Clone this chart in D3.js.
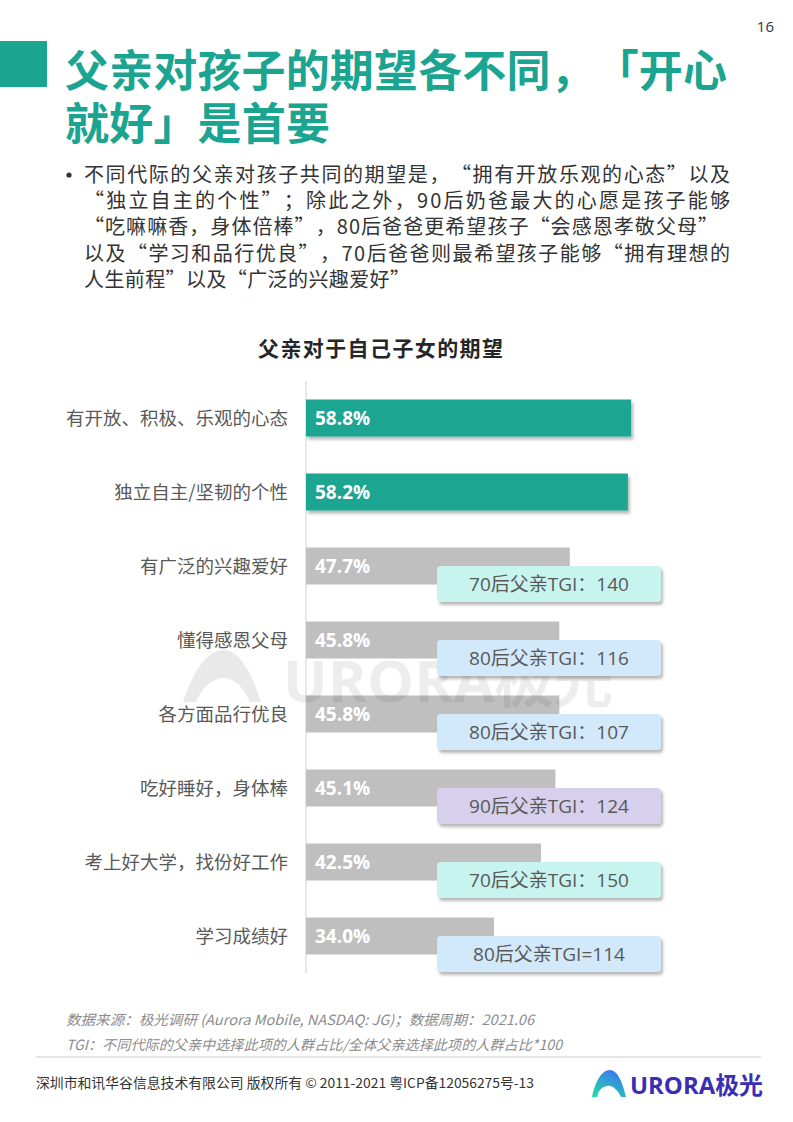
<!DOCTYPE html>
<html>
<head>
<meta charset="utf-8">
<script src="https://cdn.jsdelivr.net/npm/d3@7"></script>
<style>
  html, body { margin: 0; padding: 0; background: #fff; }
  svg { display: block; }
  text { font-family: "Noto Sans CJK SC", sans-serif; text-spacing-trim: space-all; }
  .num { font-family: "Open Sans", "Noto Sans CJK SC", sans-serif; }
</style>
</head>
<body>
<svg id="svg" width="793" height="1122"></svg>
<script>
const TEAL = '#1ba590'
const GRAY = '#bfbfbf'

const titleLines = ['父亲对孩子的期望各不同，「开心', '就好」是首要']
const titleEnds = [727, 330]
const bodyLines = [
  '不同代际的父亲对孩子共同的期望是，“拥有开放乐观的心态”以及',
  '“独立自主的个性”；除此之外，90后奶爸最大的心愿是孩子能够',
  '“吃嘛嘛香，身体倍棒”，80后爸爸更希望孩子“会感恩孝敬父母”',
  '以及“学习和品行优良”，70后爸爸则最希望孩子能够“拥有理想的',
  '人生前程”以及“广泛的兴趣爱好”'
]
const bodyEnds = [730, 730, 718, 730, 410]

const chartTitle = '父亲对于自己子女的期望'
const categories = [
  '有开放、积极、乐观的心态',
  '独立自主/坚韧的个性',
  '有广泛的兴趣爱好',
  '懂得感恩父母',
  '各方面品行优良',
  '吃好睡好，身体棒',
  '考上好大学，找份好工作',
  '学习成绩好'
]
const values = [58.8, 58.2, 47.7, 45.8, 45.8, 45.1, 42.5, 34.0]
const highlighted = ['有开放、积极、乐观的心态', '独立自主/坚韧的个性']
const tgiText = [null, null, '70后父亲TGI：140', '80后父亲TGI：116', '80后父亲TGI：107',
  '90后父亲TGI：124', '70后父亲TGI：150', '80后父亲TGI=114']
const genColors = { '70后': '#c8f4ef', '80后': '#d1e9fb', '90后': '#d6d0ec' }

const notes = [
  '数据来源：极光调研 (Aurora Mobile, NASDAQ: JG)；数据周期：2021.06',
  'TGI：不同代际的父亲中选择此项的人群占比/全体父亲选择此项的人群占比*100'
]
const noteEnds = [534, 562]
const footer = '深圳市和讯华谷信息技术有限公司 版权所有 © 2011-2021 粤ICP备12056275号-13'

const svg = d3.select('svg')
const defs = svg.append('defs')

const sh = defs.append('filter').attr('id', 'shadow')
  .attr('x', '-10%').attr('y', '-20%').attr('width', '130%').attr('height', '160%')
sh.append('feDropShadow').attr('dx', 2).attr('dy', 3).attr('stdDeviation', 1.6)
  .attr('flood-color', '#000').attr('flood-opacity', 0.28)

const lg = defs.append('linearGradient').attr('id', 'logoGrad')
  .attr('x1', '0').attr('y1', '1').attr('x2', '0.6').attr('y2', '0')
lg.append('stop').attr('offset', '0%').attr('stop-color', '#22e2a0')
lg.append('stop').attr('offset', '100%').attr('stop-color', '#3b78f0')

// header
svg.append('text').attr('x', 774).attr('y', 32).attr('text-anchor', 'end')
  .attr('class', 'num').attr('font-size', 15).attr('fill', '#333').text('16')

svg.append('rect').attr('x', 0).attr('y', 41).attr('width', 47).attr('height', 46).attr('fill', TEAL)

svg.selectAll('.title').data(titleLines).enter().append('text')
  .attr('class', 'title')
  .attr('x', 65)
  .attr('y', (d, i) => 87 + i * 53)
  .attr('font-size', 44)
  .attr('font-weight', 'bold')
  .attr('fill', TEAL)
  .attr('textLength', (d, i) => titleEnds[i] - 65)
  .attr('lengthAdjust', 'spacing')
  .text(d => d)

svg.append('circle').attr('cx', 69).attr('cy', 175).attr('r', 2.6).attr('fill', '#333')
svg.selectAll('.body').data(bodyLines).enter().append('text')
  .attr('class', 'body')
  .attr('x', 84)
  .attr('y', (d, i) => 182 + i * 26.2)
  .attr('font-size', 20)
  .attr('fill', '#333')
  .attr('textLength', (d, i) => bodyEnds[i] - 84)
  .attr('lengthAdjust', 'spacing')
  .text(d => d)

// chart
svg.append('text').attr('x', 258).attr('y', 356)
  .attr('font-size', 21).attr('font-weight', 'bold').attr('fill', '#262626')
  .attr('textLength', 245).attr('lengthAdjust', 'spacing')
  .text(chartTitle)

const x = d3.scaleLinear().domain([0, 100]).range([306, 859])
const y = d3.scaleBand().domain(categories).range([381, 973]).paddingInner(0.5).paddingOuter(0.25)

// watermark logo (behind)
const wm = svg.append('g').attr('opacity', 0.085)
wm.append('path')
  .attr('d', 'M183,702 C192,674 206,650 224,650 C240,650 252,674 261,702 L250,702 C243,686 233,677 222,678 C208,680 200,692 196,702 Z')
  .attr('fill', '#000')

svg.append('line').attr('x1', 306).attr('x2', 306).attr('y1', 381).attr('y2', 973)
  .attr('stroke', '#d9d9d9').attr('stroke-width', 1.2)

svg.selectAll('.cat').data(categories).enter().append('text')
  .attr('class', 'cat')
  .attr('x', 288)
  .attr('y', d => y(d) + y.bandwidth() / 2 + 6.5)
  .attr('text-anchor', 'end')
  .attr('font-size', 18.5)
  .attr('fill', '#595959')
  .text(d => d)

svg.selectAll('.bar').data(categories).enter().append('rect')
  .attr('class', 'bar')
  .attr('x', x(0))
  .attr('y', d => y(d))
  .attr('width', (d, i) => x(values[i]) - x(0))
  .attr('height', y.bandwidth())
  .attr('fill', d => highlighted.includes(d) ? TEAL : GRAY)
  .attr('filter', d => highlighted.includes(d) ? 'url(#shadow)' : null)

svg.selectAll('.val').data(categories).enter().append('text')
  .attr('class', 'val num')
  .attr('x', x(0) + 9)
  .attr('y', d => y(d) + y.bandwidth() / 2 + 7)
  .attr('font-size', 19)
  .attr('font-weight', 'bold')
  .attr('fill', '#fff')
  .text((d, i) => values[i].toFixed(1) + '%')

// watermark letters
svg.append('text').attr('x', 283).attr('y', 702)
  .attr('class', 'num')
  .attr('font-size', 57).attr('font-weight', 'bold')
  .attr('fill', '#000').attr('opacity', 0.065)
  .attr('textLength', 330).attr('lengthAdjust', 'spacingAndGlyphs')
  .text('URORA极光')

const tgi = categories.map((c, i) => ({ c, t: tgiText[i] })).filter(d => d.t)
const box = svg.selectAll('.tgi').data(tgi).enter().append('g').attr('class', 'tgi')
box.append('rect')
  .attr('x', 437)
  .attr('y', d => y(d.c) + y.bandwidth() / 2)
  .attr('width', 224)
  .attr('height', 36)
  .attr('rx', 4)
  .attr('fill', d => genColors[d.t.slice(0, 3)])
  .attr('filter', 'url(#shadow)')
box.append('text')
  .attr('class', 'num')
  .attr('x', 549)
  .attr('y', d => y(d.c) + y.bandwidth() / 2 + 24.5)
  .attr('text-anchor', 'middle')
  .attr('font-size', 19)
  .attr('fill', '#595959')
  .text(d => d.t)

// notes & footer
svg.selectAll('.note').data(notes).enter().append('text')
  .attr('class', 'note')
  .attr('x', 66)
  .attr('y', (d, i) => 1025 + i * 24.5)
  .attr('font-size', 14)
  .attr('font-style', 'italic')
  .attr('fill', '#8c8c8c')
  .attr('textLength', (d, i) => noteEnds[i] - 66)
  .attr('lengthAdjust', 'spacingAndGlyphs')
  .text(d => d)

svg.append('line').attr('x1', 36).attr('x2', 761).attr('y1', 1057).attr('y2', 1057)
  .attr('stroke', '#e6e6e6').attr('stroke-width', 2)

svg.append('text').attr('x', 36).attr('y', 1088)
  .attr('font-size', 13.5).attr('fill', '#333')
  .attr('textLength', 498).attr('lengthAdjust', 'spacingAndGlyphs')
  .text(footer)

svg.append('path')
  .attr('d', 'M592,1097 C595,1083 601,1070 610,1070 C618,1070 623,1084 626,1097 L621,1097 C617,1089 612,1085 607,1086 C601,1087 598,1092 597,1097 Z')
  .attr('fill', 'url(#logoGrad)')
svg.append('text').attr('x', 630).attr('y', 1094)
  .attr('class', 'num')
  .attr('font-size', 24).attr('font-weight', 'bold').attr('fill', '#3a2fb4')
  .attr('textLength', 133).attr('lengthAdjust', 'spacingAndGlyphs')
  .text('URORA极光')
</script>
</body>
</html>
